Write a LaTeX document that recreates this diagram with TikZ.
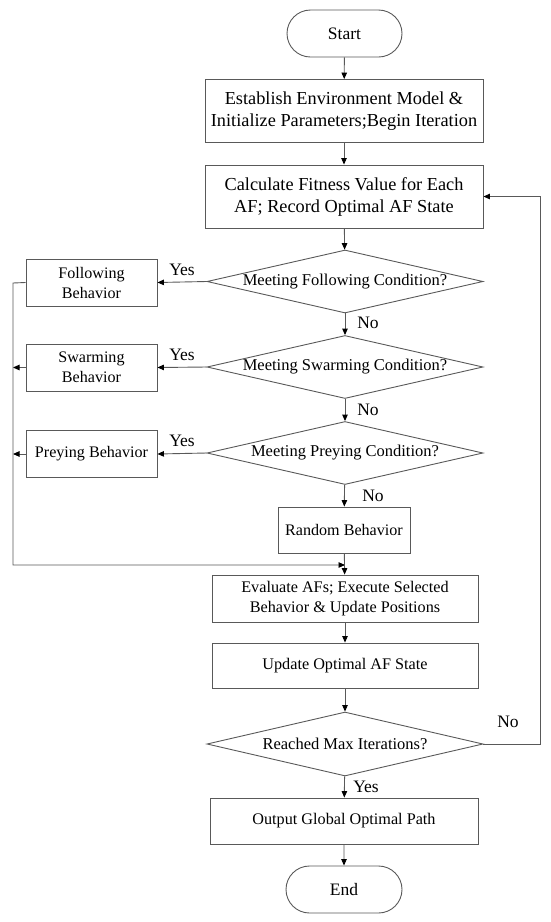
\documentclass[tikz,border=0pt]{standalone}
\usepackage{fontspec}
\setmainfont{Liberation Serif}
\usetikzlibrary{shapes.geometric,shapes.misc,arrows.meta}
\definecolor{ln}{gray}{0.35}
\tikzset{
  base/.style={draw=ln, line width=0.9pt, inner sep=0pt, align=center, text=black},
  term/.style={base, rounded rectangle, minimum width=115pt, minimum height=47pt, font=\fontsize{17.5}{21}\selectfont},
  bigbox/.style={base, rectangle, minimum width=278pt, minimum height=63pt, font=\fontsize{18.3}{22}\selectfont},
  midbox/.style={base, rectangle, minimum width=266pt, minimum height=46pt, font=\fontsize{16.2}{20}\selectfont},
  sidebox/.style={base, rectangle, minimum width=131pt, minimum height=47pt, font=\fontsize{16.1}{20}\selectfont},
  decide/.style={base, diamond, aspect=4.35, minimum width=276pt, minimum height=63pt, font=\fontsize{16.5}{20}\selectfont},
  lbl/.style={font=\fontsize{17.5}{21}\selectfont, inner sep=0pt},
  conn/.style={draw=ln, line width=0.9pt, -{Triangle[length=6.5pt,width=5.5pt,color=black]}},
  plain/.style={draw=ln, line width=0.9pt}
}
\begin{document}
\begin{tikzpicture}[x=1pt,y=-1pt]
\useasboundingbox (0,0) rectangle (550,922);
\node[term] (start) at (344.5,33.5) {Start};
\node[bigbox] (b1) at (344,111) {Establish Environment Model \&\\Initialize Parameters;Begin Iteration};
\node[bigbox] (b2) at (344,196.5) {Calculate Fitness Value for Each\\AF; Record Optimal AF State};
\node[decide] (d1) at (345,281.5) {Meeting Following Condition?};
\node[decide] (d2) at (345,367) {Meeting Swarming Condition?};
\node[decide] (d3) at (345,453) {Meeting Preying Condition?};
\node[sidebox] (f) at (91.5,282.5) {Following\\Behavior};
\node[sidebox] (s) at (91.5,367.5) {Swarming\\Behavior};
\node[sidebox] (p) at (91.5,454) {Preying Behavior};
\node[sidebox, minimum width=132pt, minimum height=46pt] (r) at (344,530) {Random Behavior};
\node[midbox, minimum height=47pt] (ev) at (345,598.5) {Evaluate AFs; Execute Selected\\Behavior \& Update Positions};
\node[midbox, minimum height=45pt] (up) at (345,665.5) {Update Optimal AF State};
\node[decide, minimum height=64pt] (d4) at (345,744) {Reached Max Iterations?};
\node[midbox, minimum width=268pt] (out) at (344,821) {Output Global Optimal Path};
\node[term, minimum width=116pt] (end) at (344,889.5) {End};

\coordinate (lt) at (13,283);
\coordinate (lb) at (13,565);
\coordinate (mj) at (345,565);
\coordinate (rb) at (540,744);
\coordinate (rt) at (540,196.5);

\draw[conn] (start) -- (b1);
\draw[conn] (b1) -- (b2);
\draw[conn] (b2) -- (d1);
\draw[conn] (d1) -- (d2);
\draw[conn] (d2) -- (d3);
\draw[conn] (d3) -- (r);
\draw[conn] (d1.west) -- (f.east);
\draw[conn] (d2.west) -- (s.east);
\draw[conn] (d3.west) -- (p.east);
\draw[conn] (s.west) -- (s.west -| lt);
\draw[conn] (p.west) -- (p.west -| lt);
\draw[conn] (f.west) -- (lt) -- (lb) -- (mj);
\draw[conn] (r) -- (ev);
\draw[conn] (ev) -- (up);
\draw[conn] (up) -- (d4);
\draw[conn] (d4) -- (out);
\draw[conn] (out) -- (end);
\draw[conn] (d4.east) -- (rb) -- (rt) -- (b2.east);

\node[lbl] (y1) at (182,270) {Yes};
\node[lbl] (y2) at (182,355) {Yes};
\node[lbl] (y3) at (182,441) {Yes};
\node[lbl] (n1) at (368,323) {No};
\node[lbl] (n2) at (368,410) {No};
\node[lbl] (n3) at (373,496) {No};
\node[lbl] (n4) at (508,722) {No};
\node[lbl] (y4) at (366,787) {Yes};
\end{tikzpicture}
\end{document}
